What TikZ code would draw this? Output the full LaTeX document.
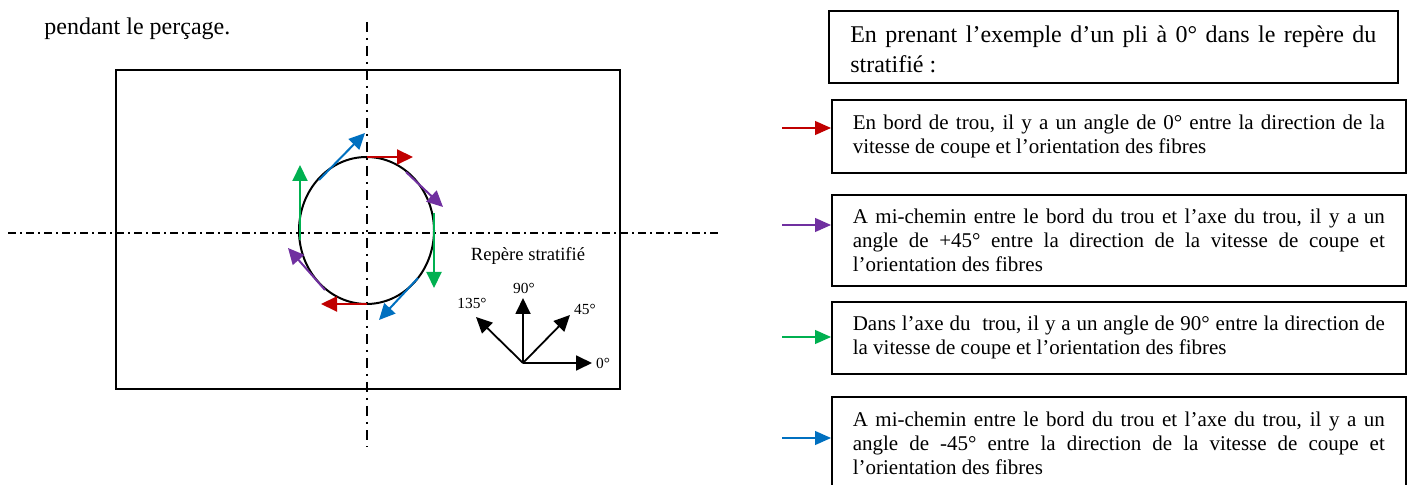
\documentclass[tikz,border=0pt]{standalone}
\usepackage{fontspec}
\setmainfont{Liberation Serif}
\usetikzlibrary{arrows.meta}
\definecolor{cred}{HTML}{C00000}
\definecolor{cblue}{HTML}{0070C0}
\definecolor{cpurple}{HTML}{7030A0}
\definecolor{cgreen}{HTML}{00B050}
\newcommand{\jl}[2]{\leavevmode\hbox to #1{\spaceskip=0pt\xspaceskip=0pt #2}}
\begin{document}
\begin{tikzpicture}[x=0.5pt,y=-0.5pt,
  axisH/.style={line width=0.6pt, dash pattern=on 4pt off 2pt on 1pt off 2pt},
  axisV/.style={line width=0.6pt, dash pattern=on 5pt off 3pt on 1pt off 3pt},
  tarrow/.style={line width=1pt, -{Triangle[length=8pt,width=7.5pt]}},
  axarrow/.style={line width=0.9pt, -{Triangle[length=8pt,width=7.5pt]}},
  sidearrow/.style={line width=0.6pt, -{Triangle[length=8pt,width=7pt]}},
  boxstyle/.style={draw, line width=0.8pt, align=left, anchor=north west,
    font=\fontsize{10.5}{12}\selectfont, inner xsep=10.5pt, inner ysep=0pt,
    text width=266pt, minimum width=287pt},
  lbl/.style={font=\fontsize{7.7}{9}\selectfont, inner sep=0pt}
]
\useasboundingbox (0,0) rectangle (1411,485);

% title text
\node[anchor=base west, inner sep=0pt, font=\fontsize{12}{14}\selectfont] (title) at (44,35) {pendant le perçage.};

% plate
\draw[line width=0.6pt] (116,70) rectangle (620,389);
\draw[axisH] (8,233) -- (718,233);
\draw[axisV] (367,22) -- (367,447);

% hole
\draw[line width=1pt] (366.5,230.5) ellipse [x radius=67.5, y radius=73.5];

% cutting speed arrows
\draw[tarrow, cred] (367,157) -- (413,157);
\draw[tarrow, cred] (367,304) -- (321,304);
\draw[tarrow, cblue] (319,180) -- (365,133);
\draw[tarrow, cblue] (418,278) -- (379,320);
\draw[tarrow, cpurple] (406,172) -- (443,207);
\draw[tarrow, cpurple] (325,290) -- (288,248);
\draw[tarrow, cgreen] (300,240) -- (300,165);
\draw[tarrow, cgreen] (434,213) -- (434,288);

% laminate frame
\node[font=\fontsize{9.3}{11}\selectfont, inner sep=0pt] (rep) at (528,256) {Repère stratifié};
\coordinate (O) at (523,363);
\coordinate (a0) at (592,363);
\coordinate (a90) at (523,298);
\coordinate (a45) at (570,315);
\coordinate (a135) at (476,317);
\draw[axarrow] (O) -- (a0);
\draw[axarrow] (O) -- (a90);
\draw[axarrow] (O) -- (a45);
\draw[axarrow] (O) -- (a135);
\node[lbl] (l0) at (603,363) {0°};
\node[lbl] (l90) at (524,288) {90°};
\node[lbl] (l45) at (585,309) {45°};
\node[lbl] (l135) at (472,303) {135°};

% right boxes
\node[boxstyle, font=\fontsize{12}{15}\selectfont, text width=263pt, inner xsep=10.75pt,
  minimum width=284.5pt, minimum height=36pt] (b0) at (828,10)
  {\rule{0pt}{11pt}\jl{263pt}{En prenant l’exemple d’un pli à 0° dans le repère du}\\\jl{263pt}{stratifié :\hfil}};
\node[boxstyle, minimum height=36.5pt] (b1) at (831,99)
  {\jl{266pt}{En bord de trou, il y a un angle de 0° entre la direction de la}\\\jl{266pt}{vitesse de coupe et l’orientation des fibres\hfil}};
\node[boxstyle, minimum height=45.5pt] (b2) at (831,194)
  {\jl{266pt}{A mi-chemin entre le bord du trou et l’axe du trou, il y a un}\\\jl{266pt}{angle de +45° entre la direction de la vitesse de coupe et}\\\jl{266pt}{l’orientation des fibres\hfil}};
\node[boxstyle, minimum height=36pt] (b3) at (831,301)
  {\jl{266pt}{Dans l’axe du\ \ trou, il y a un angle de 90° entre la direction de}\\\jl{266pt}{la vitesse de coupe et l’orientation des fibres\hfil}};
\node[boxstyle, minimum height=46.5pt] (b4) at (831,396)
  {\jl{266pt}{A mi-chemin entre le bord du trou et l’axe du trou, il y a un}\\\jl{266pt}{angle de -45° entre la direction de la vitesse de coupe et}\\\jl{266pt}{l’orientation des fibres\hfil}};

% legend arrows
\coordinate (s1) at (782,128);
\coordinate (s2) at (782,225);
\coordinate (s3) at (782,337);
\coordinate (s4) at (782,438);
\draw[sidearrow, cred] (s1) -- (s1 -| b1.west);
\draw[sidearrow, cpurple] (s2) -- (s2 -| b2.west);
\draw[sidearrow, cgreen] (s3) -- (s3 -| b3.west);
\draw[sidearrow, cblue] (s4) -- (s4 -| b4.west);
\end{tikzpicture}
\end{document}
